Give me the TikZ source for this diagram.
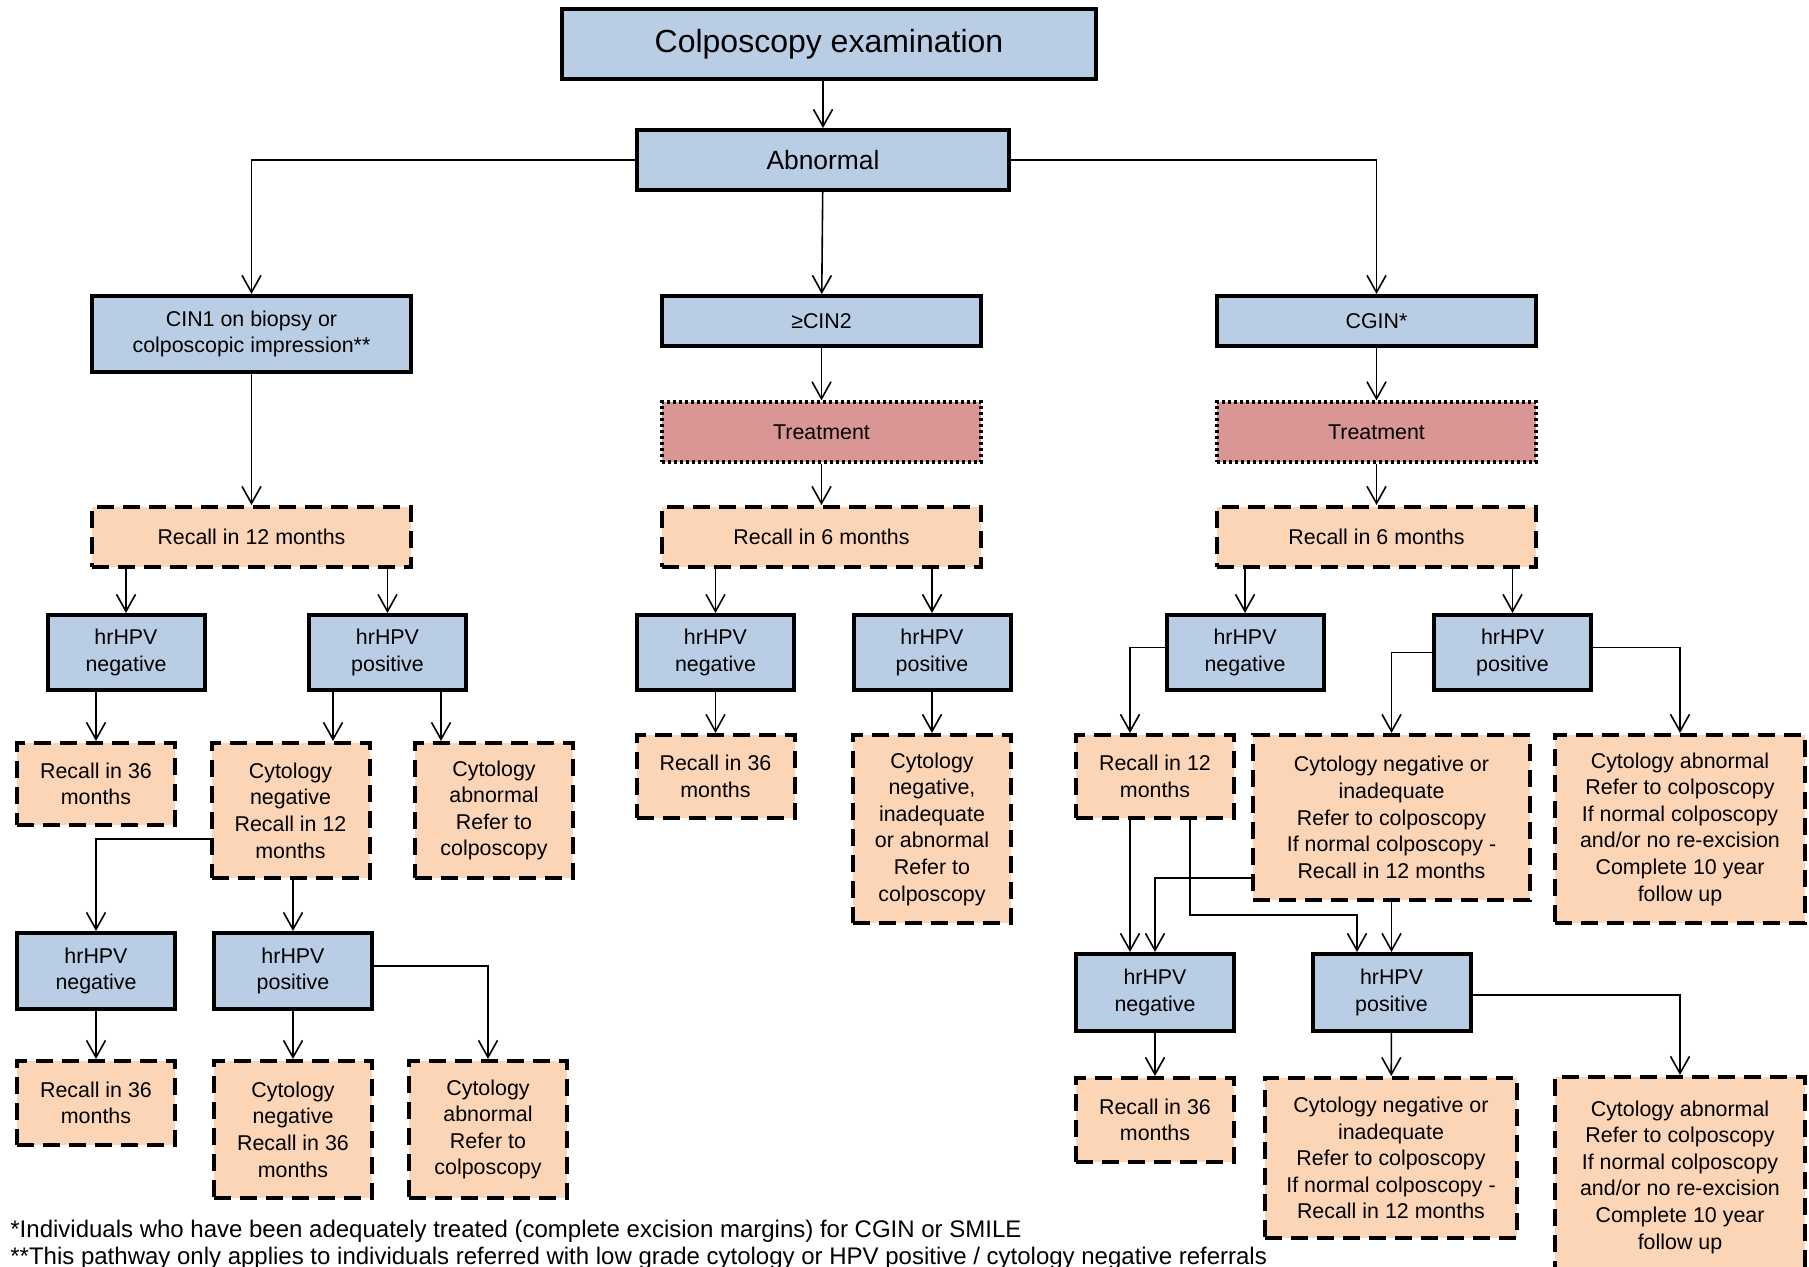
\documentclass[tikz,border=0pt]{standalone}
\usepackage{fontspec}
\setmainfont{Liberation Sans}
\usetikzlibrary{arrows.meta}
\definecolor{lightblue}{HTML}{B9CDE5}
\definecolor{lightpeach}{HTML}{FBD5B5}
\definecolor{lightred}{HTML}{D99694}

\begin{document}
\begin{tikzpicture}[x=0.5pt,y=-0.5pt,
    every node/.style={align=center,inner sep=1pt,font=\fontsize{10.7}{13.3}\selectfont},
    sz/.style 2 args={minimum width=#1pt,minimum height=#2pt},
    test/.style={draw,line width=2pt,fill=lightblue},
    recall/.style={draw,line width=2pt,fill=lightpeach,dash pattern=on 8.5pt off 4.5pt},
    treat/.style={draw,line width=1.6pt,fill=lightred,dash pattern=on 1.5pt off 1.5pt},
    arr/.style={-{Straight Barb[length=8.5pt,width=9.5pt]},line width=0.8pt}]
  \useasboundingbox (0,0) rectangle (1809,1267);
  % top of the pathway
  \draw
    (829,44) node[test,sz={267}{35},font=\fontsize{16}{18}\selectfont] (exam) {Colposcopy examination}
    (823,160) node[test,sz={186}{30},font=\fontsize{13.2}{15}\selectfont] (abn) {Abnormal};
  \draw
    (251.5,334) node[test,sz={159.5}{38}] (cin1) {CIN1 on biopsy or\\colposcopic impression**}
    (821.5,321) node[test,sz={159.5}{25}] (cin2) {≥CIN2}
    (1376.5,321) node[test,sz={159.5}{25}] (cgin) {CGIN*};
  \draw
    (821.5,432) node[treat,sz={159.5}{30}] (trM) {Treatment}
    (1376.5,432) node[treat,sz={159.5}{30}] (trR) {Treatment};
  \draw
    (251.5,537) node[recall,sz={159.5}{30}] (recL) {Recall in 12 months}
    (821.5,537) node[recall,sz={159.5}{30}] (recM) {Recall in 6 months}
    (1376.5,537) node[recall,sz={159.5}{30}] (recR) {Recall in 6 months};
  % first hrHPV tests
  \draw
    (126,652.5) node[test,sz={78.5}{37.5}] (negL) {hrHPV\\negative}
    (387.5,652.5) node[test,sz={78.5}{37.5}] (posL) {hrHPV\\positive}
    (715.5,652.5) node[test,sz={78.5}{37.5}] (negM) {hrHPV\\negative}
    (932,652.5) node[test,sz={78.5}{37.5}] (posM) {hrHPV\\positive}
    (1245,652.5) node[test,sz={78.5}{37.5}] (negR) {hrHPV\\negative}
    (1512.5,652.5) node[test,sz={78.5}{37.5}] (posR) {hrHPV\\positive};
  % outcomes
  \draw
    (96,784) node[recall,sz={79}{41}] (rec36L) {Recall in 36\\months}
    (290.5,810.5) node[recall,sz={79}{67.5}] (cytNegL) {Cytology\\negative\\Recall in 12\\months}
    (494,810.5) node[recall,sz={79}{67.5}] (cytAbnL) {Cytology\\abnormal\\Refer to\\colposcopy}
    (715.5,776.5) node[recall,sz={79}{41.5}] (rec36M) {Recall in 36\\months}
    (932,829) node[recall,sz={79}{94}] (cytM) {Cytology\\negative,\\inadequate\\or abnormal\\Refer to\\colposcopy}
    (1155,776.5) node[recall,sz={79}{41.5}] (rec12R) {Recall in 12\\months}
    (1391.5,817.5) node[recall,sz={138.5}{82.5}] (cytNegR) {Cytology negative or\\inadequate\\Refer to colposcopy\\If normal colposcopy -\\Recall in 12 months}
    (1680,829) node[recall,sz={125}{94}] (cytAbnR) {Cytology abnormal\\Refer to colposcopy\\If normal colposcopy\\and/or no re-excision\\Complete 10 year\\follow up};
  % second hrHPV tests
  \draw
    (96,971) node[test,sz={79}{38}] (negL2) {hrHPV\\negative}
    (293,971) node[test,sz={79}{38}] (posL2) {hrHPV\\positive}
    (1155,992.5) node[test,sz={79}{38.5}] (negR2) {hrHPV\\negative}
    (1391.5,992.5) node[test,sz={79}{38.5}] (posR2) {hrHPV\\positive};
  \draw
    (96,1103) node[recall,sz={79}{42}] (rec36L2) {Recall in 36\\months}
    (293,1129.5) node[recall,sz={79}{68.5}] (cytNegL2) {Cytology\\negative\\Recall in 36\\months}
    (488,1129.5) node[recall,sz={79}{68.5}] (cytAbnL2) {Cytology\\abnormal\\Refer to\\colposcopy}
    (1155,1120) node[recall,sz={79}{42}] (rec36R2) {Recall in 36\\months}
    (1391,1158) node[recall,sz={126}{80}] (cytNegR2) {Cytology negative or\\inadequate\\Refer to colposcopy\\If normal colposcopy -\\Recall in 12 months}
    (1680,1177) node[recall,sz={125}{100}] (cytAbnR2) {Cytology abnormal\\Refer to colposcopy\\If normal colposcopy\\and/or no re-excision\\Complete 10 year\\follow up};
  % footnotes
  \draw
    (8,1231) node[anchor=west,font=\fontsize{12}{14}\selectfont] (note1) {*Individuals who have been adequately treated (complete excision margins) for CGIN or SMILE}
    (8,1258) node[anchor=west,font=\fontsize{12}{14}\selectfont] (note2) {**This pathway only applies to individuals referred with low grade cytology or HPV positive / cytology negative referrals};
  % guide lines for the off-centre connectors
  \coordinate (pa) at (333,0);
  \coordinate (pb) at (441,0);
  \coordinate (pe) at (1130,0);
  \coordinate (pc) at (1190,915);
  \coordinate (pd) at (1357,915);
  % connectors
  \draw[arr] (exam.south -| abn) -- (abn);
  \draw[arr] (abn.west) -| (cin1);
  \draw[arr] (abn) -- (cin2);
  \draw[arr] (abn.east) -| (cgin);
  \draw[arr] (cin1) -- (recL);
  \draw[arr] (cin2) -- (trM);
  \draw[arr] (trM) -- (recM);
  \draw[arr] (cgin) -- (trR);
  \draw[arr] (trR) -- (recR);
  \draw[arr] (recL.south -| negL) -- (negL);
  \draw[arr] (recL.south -| posL) -- (posL);
  \draw[arr] (recM.south -| negM) -- (negM);
  \draw[arr] (recM.south -| posM) -- (posM);
  \draw[arr] (recR.south -| negR) -- (negR);
  \draw[arr] (recR.south -| posR) -- (posR);
  \draw[arr] (negL.south -| rec36L) -- (rec36L);
  \draw[arr] (posL.south -| pa) -- (cytNegL.north -| pa);
  \draw[arr] (posL.south -| pb) -- (cytAbnL.north -| pb);
  \draw[arr] ([yshift=-14.25pt]cytNegL.west) -| (negL2);
  \draw[arr] (cytNegL.south -| posL2) -- (posL2);
  \draw[arr] (negL2) -- (rec36L2);
  \draw[arr] (posL2) -- (cytNegL2);
  \draw[arr] ([yshift=2.5pt]posL2.east) -| (cytAbnL2);
  \draw[arr] (negM) -- (rec36M);
  \draw[arr] (posM) -- (cytM);
  \draw[arr] ([yshift=2.5pt]negR.west) -| (rec12R.north -| pe);
  \draw[arr] (posR.west) -| (cytNegR);
  \draw[arr] ([yshift=2.5pt]posR.east) -| (cytAbnR);
  \draw[arr] (rec12R.south -| pe) -- (negR2.north -| pe);
  \draw[arr] (rec12R.south -| pc) -- (pc) -- (pd) -- (posR2.north -| pd);
  \draw[arr] ([yshift=-30.25pt]cytNegR.west) -| (negR2);
  \draw[arr] (cytNegR.south -| posR2) -- (posR2);
  \draw[arr] (negR2) -- (rec36R2);
  \draw[arr] (posR2) -- (cytNegR2);
  \draw[arr] ([yshift=-1.25pt]posR2.east) -| (cytAbnR2);
\end{tikzpicture}
\end{document}
